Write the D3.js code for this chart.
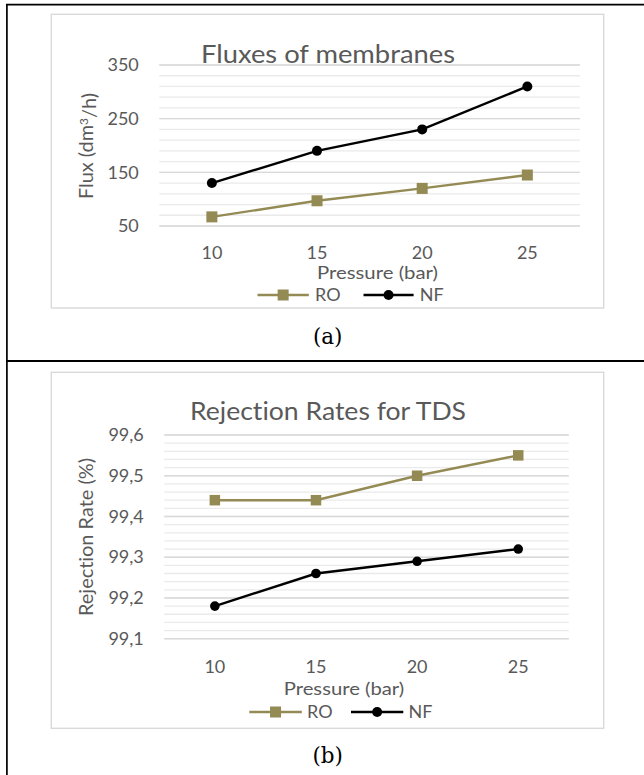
<!DOCTYPE html>
<html><head><meta charset="utf-8">
<script src="https://cdn.jsdelivr.net/npm/d3@7"></script>
<style>
html,body{margin:0;padding:0;background:#fff;}
svg{display:block;}
text{font-family:Lato,"Open Sans",sans-serif;font-variant-ligatures:none;}
</style></head>
<body>
<svg id="c" width="644" height="775"></svg>
<script>
// ---- data ----
const pressures = ["10","15","20","25"];
const seriesNames = ["RO","NF"];
const fluxRO = [67, 97, 120, 145];
const fluxNF = [130, 190, 230, 310];
const rejRO = [99.44, 99.44, 99.50, 99.55];
const rejNF = [99.18, 99.26, 99.29, 99.32];
const fluxTicks = [50, 150, 250, 350];
const rejTicks = [99.1, 99.2, 99.3, 99.4, 99.5, 99.6];

const colRO = "#948A54", colNF = "#000000";
const txt = "#595959";
const svg = d3.select("#c");

// table borders
svg.append("line").attr("x1",6).attr("x2",644).attr("y1",4.7).attr("y2",4.7).attr("stroke","#000").attr("stroke-width",1.7);
svg.append("line").attr("x1",6.9).attr("x2",6.9).attr("y1",4).attr("y2",775).attr("stroke","#000").attr("stroke-width",1.7);
svg.append("line").attr("x1",6).attr("x2",644).attr("y1",361).attr("y2",361).attr("stroke","#000").attr("stroke-width",2);

function fitText(sel, w){
  sel.attr("textLength", w).attr("lengthAdjust","spacingAndGlyphs");
}

function chart(cfg){
  const g = svg.append("g");
  // frame
  g.append("rect").attr("x",cfg.frame[0]).attr("y",cfg.frame[1])
    .attr("width",cfg.frame[2]-cfg.frame[0]).attr("height",cfg.frame[3]-cfg.frame[1])
    .attr("fill","#fff").attr("stroke","#D9D9D9").attr("stroke-width",1.4);
  const x = d3.scaleBand().domain(pressures).range([cfg.px0, cfg.px1]);
  const y = d3.scaleLinear().domain(cfg.domain).range([cfg.py0, cfg.py1]);
  // minor gridlines
  const minor = d3.range(0, Math.round((cfg.domain[1]-cfg.domain[0])/cfg.minorStep)+1)
     .map(i => cfg.domain[0] + i*cfg.minorStep);
  g.selectAll(".mg").data(minor).enter().append("line")
    .attr("x1",cfg.px0).attr("x2",cfg.px1)
    .attr("y1",d=>y(d)).attr("y2",d=>y(d))
    .attr("stroke","#EAEAEA").attr("stroke-width",1.3);
  g.selectAll(".Mg").data(cfg.ticks).enter().append("line")
    .attr("x1",cfg.px0).attr("x2",cfg.px1)
    .attr("y1",d=>y(d)).attr("y2",d=>y(d))
    .attr("stroke","#D9D9D9").attr("stroke-width",1.4);
  // axes
  const ya = g.append("g").attr("transform",`translate(${cfg.px0},0)`)
    .call(d3.axisLeft(y).tickValues(cfg.ticks).tickSize(0).tickPadding(20.5).tickFormat(cfg.fmt));
  ya.select(".domain").remove();
  ya.selectAll("text").attr("fill",txt).style("font-size","18px").style("font-family","Lato");
  const xa = g.append("g").attr("transform",`translate(0,${cfg.py0})`)
    .call(d3.axisBottom(x).tickSize(0).tickPadding(cfg.xPad));
  xa.select(".domain").remove();
  xa.selectAll("text").attr("fill",txt).style("font-size","18px").style("font-family","Lato");
  // title
  fitText(g.append("text").attr("x",cfg.title[1]).attr("y",cfg.title[2]).attr("text-anchor","middle")
    .attr("fill",txt).style("font-size","25px").text(cfg.title[0]), cfg.title[3]);
  // y title
  const yt = g.append("text").attr("transform",`translate(${cfg.ytitle[1]},${cfg.ytitle[2]}) rotate(-90)`)
    .attr("text-anchor","middle").attr("dy","0.36em").attr("fill",txt).style("font-size","18.5px");
  if (cfg.sup){
    yt.append("tspan").text("Flux (dm");
    yt.append("tspan").attr("dy","-0.45em").style("font-size","11px").text("3");
    yt.append("tspan").attr("dy","0.45em").text("/h)");
  } else yt.text(cfg.ytitle[0]);
  fitText(yt, cfg.ytitle[3]);
  // x title
  fitText(g.append("text").attr("x",cfg.xtitle[0]).attr("y",cfg.xtitle[1]).attr("text-anchor","middle")
    .attr("fill",txt).style("font-size","18px").text("Pressure (bar)"), cfg.xtitle[2]);
  // series
  const line = d3.line().x((d,i)=>x(pressures[i])+x.bandwidth()/2).y(d=>y(d));
  g.append("path").datum(cfg.ro).attr("d",line).attr("fill","none").attr("stroke",colRO).attr("stroke-width",2.4);
  g.append("path").datum(cfg.nf).attr("d",line).attr("fill","none").attr("stroke",colNF).attr("stroke-width",2.4);
  const s = cfg.sq;
  g.selectAll(".sq").data(cfg.ro).enter().append("rect")
    .attr("x",(d,i)=>x(pressures[i])+x.bandwidth()/2-s/2).attr("y",d=>y(d)-s/2)
    .attr("width",s).attr("height",s).attr("fill",colRO);
  g.selectAll(".ci").data(cfg.nf).enter().append("circle")
    .attr("cx",(d,i)=>x(pressures[i])+x.bandwidth()/2).attr("cy",d=>y(d))
    .attr("r",cfg.cr).attr("fill",colNF);
  // legend
  const L = cfg.legend; // [y, roLine0, roLine1, roText, nfLine0, nfLine1, nfText]
  g.append("line").attr("x1",L[1]).attr("x2",L[2]).attr("y1",L[0]).attr("y2",L[0]).attr("stroke",colRO).attr("stroke-width",2.4);
  g.append("rect").attr("x",(L[1]+L[2])/2-5.5).attr("y",L[0]-5.5).attr("width",11).attr("height",11).attr("fill",colRO);
  g.append("text").attr("x",L[3]).attr("y",L[0]+6.3).attr("fill",txt).style("font-size","18px").text(seriesNames[0]);
  g.append("line").attr("x1",L[4]).attr("x2",L[5]).attr("y1",L[0]).attr("y2",L[0]).attr("stroke",colNF).attr("stroke-width",2.4);
  g.append("circle").attr("cx",(L[4]+L[5])/2).attr("cy",L[0]).attr("r",5).attr("fill",colNF);
  g.append("text").attr("x",L[6]).attr("y",L[0]+6.3).attr("fill",txt).style("font-size","18px").text(seriesNames[1]);
  // caption
  g.append("text").attr("x",327.7).attr("y",cfg.cap[1]).attr("text-anchor","middle")
    .attr("fill","#000").style("font-family","'DejaVu Serif',serif").style("font-size","21.5px").text(cfg.cap[0]);
}

chart({
  frame:[51.3,14.3,603.7,308], px0:159.3, px1:579.9, py0:226, py1:65,
  domain:[50,350], minorStep:20, ticks:fluxTicks, fmt:d3.format("d"), xPad:20.2,
  ro:fluxRO, nf:fluxNF, sq:11, cr:5,
  title:["Fluxes of membranes",328,63,254],
  ytitle:["Flux (dm³/h)",86,146,106], sup:true,
  xtitle:[377.5,279,121],
  legend:[295,257.5,308.8,315,363.5,413.6,419.7],
  cap:["(a)",344.3]
});
chart({
  frame:[51.3,372.3,603.7,728.3], px0:164.3, px1:568.8, py0:638.7, py1:435,
  domain:[99.1,99.6], minorStep:0.02, ticks:rejTicks, fmt:d=>d3.format(".1f")(d).replace(".",","), xPad:21.8,
  ro:rejRO, nf:rejNF, sq:10.5, cr:4.8,
  title:["Rejection Rates for TDS",328,420,276],
  ytitle:["Rejection Rate (%)",86,537,158], sup:false,
  xtitle:[344,695,120.5],
  legend:[712,249.3,301.8,307,351,403.3,408.6],
  cap:["(b)",763]
});
</script>
</body></html>
